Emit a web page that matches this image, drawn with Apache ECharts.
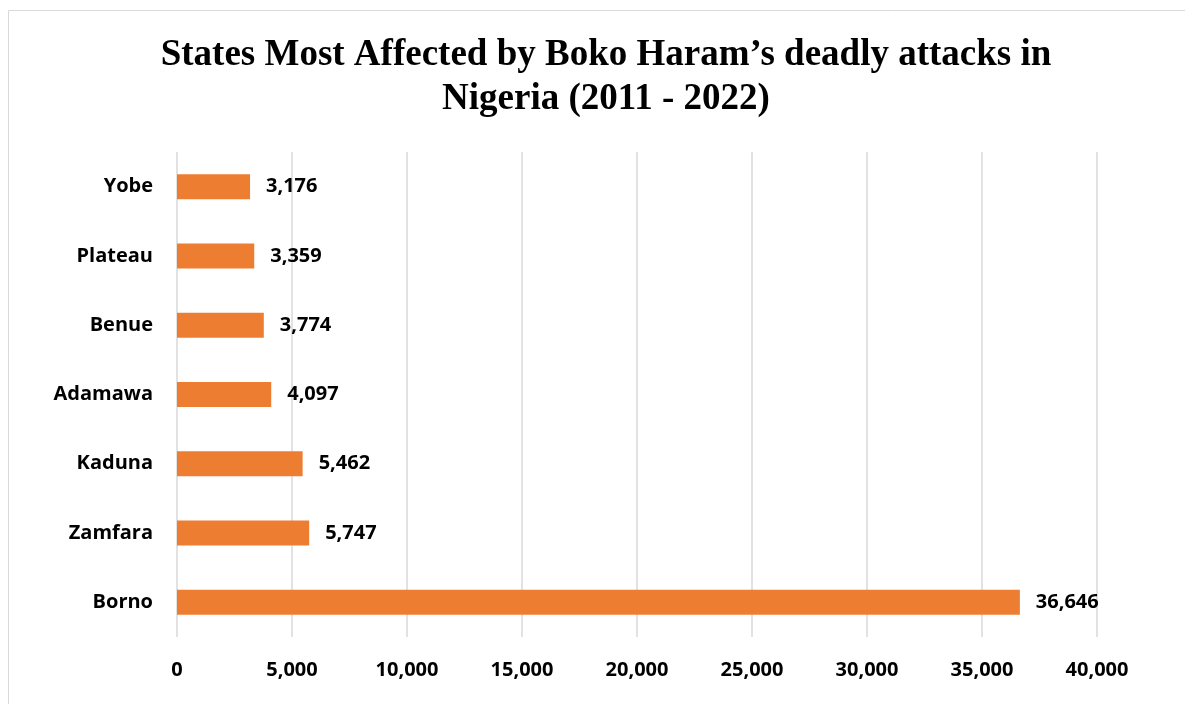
<!DOCTYPE html>
<html>
<head>
<meta charset="utf-8">
<script src="https://cdn.jsdelivr.net/npm/echarts@6/dist/echarts.min.js"></script>
<style>
html,body{margin:0;padding:0;background:#fff;}
#chart{width:1185px;height:704px;}
</style>
</head>
<body>
<div id="chart"></div>
<script>
const titleText = "States Most Affected by Boko Haram’s deadly attacks in\nNigeria (2011 - 2022)";
const states = ["Borno", "Zamfara", "Kaduna", "Adamawa", "Benue", "Plateau", "Yobe"];
const deaths = [36646, 5747, 5462, 4097, 3774, 3359, 3176];
const xTicks = { min: 0, max: 40000, interval: 5000 };

const labelFont = "'Open Sans', Lato, sans-serif";
const fmt = v => Number(v).toLocaleString('en-US');

const chart = echarts.init(document.getElementById('chart'));
chart.setOption({
  animation: false,
  backgroundColor: '#ffffff',
  graphic: [{
    type: 'rect',
    shape: { x: 8.5, y: 10.5, width: 1300, height: 800 },
    style: { fill: 'none', stroke: '#d9d9d9', lineWidth: 1 },
    silent: true
  }],
  title: {
    text: titleText,
    left: 601,
    top: 28,
    textAlign: 'center',
    textStyle: {
      fontFamily: "'Liberation Serif', 'Times New Roman', serif",
      fontWeight: 'bold',
      fontSize: 37,
      lineHeight: 44,
      color: '#000'
    }
  },
  grid: { left: 177, right: 88, top: 152, bottom: 67, containLabel: false },
  xAxis: {
    type: 'value',
    min: xTicks.min,
    max: xTicks.max,
    interval: xTicks.interval,
    axisLine: { show: false },
    axisTick: { show: false },
    splitLine: { show: true, lineStyle: { color: '#d9d9d9', width: 1.5 } },
    axisLabel: {
      margin: 23,
      fontFamily: labelFont,
      fontWeight: 'bold',
      fontSize: 20,
      color: '#000',
      formatter: fmt
    }
  },
  yAxis: {
    type: 'category',
    data: states,
    axisLine: { show: false },
    axisTick: { show: false },
    splitLine: { show: false },
    axisLabel: {
      margin: 24,
      fontFamily: labelFont,
      fontWeight: 'bold',
      fontSize: 20,
      color: '#000'
    }
  },
  series: [{
    type: 'bar',
    data: deaths,
    barWidth: 25,
    itemStyle: { color: '#ED7D31' },
    label: {
      show: true,
      position: 'right',
      distance: 16,
      fontFamily: labelFont,
      fontWeight: 'bold',
      fontSize: 20,
      color: '#000',
      formatter: p => fmt(p.value)
    }
  }]
});
</script>
</body>
</html>
